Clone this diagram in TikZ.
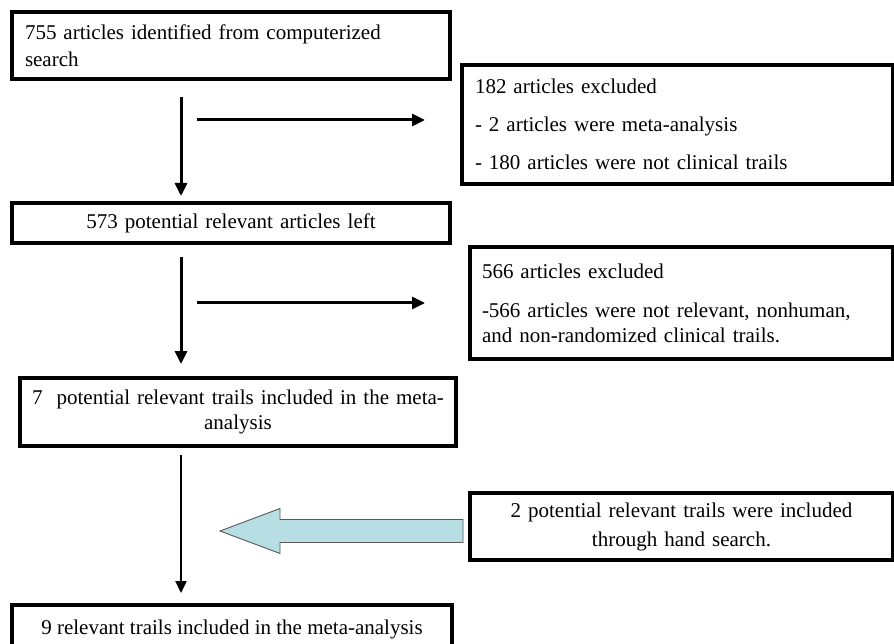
\documentclass[tikz,border=0pt]{standalone}
\usepackage{fontspec}
\setmainfont{Liberation Serif}
\usetikzlibrary{arrows.meta}
\definecolor{fatfill}{RGB}{183,222,226}
\definecolor{fatedge}{RGB}{90,90,90}
\tikzset{
  box/.style={draw=black, line width=3.5pt, inner sep=0pt, font=\fontsize{21}{27}\selectfont},
  arr/.style={line width=3pt, -{Triangle[length=13pt,width=12pt]}},
  thinarr/.style={line width=2.4pt, -{Triangle[length=12pt,width=11pt]}},
}
\begin{document}
\begin{tikzpicture}[x=1pt,y=-1pt]
\useasboundingbox[fill=white] (0,0) rectangle (894,644);
% boxes
\node[box, minimum width=438pt, minimum height=67pt, text width=412pt, align=left] (b1) at (231,45.5)
  {755 articles identified from computerized\\search};
\node[box, minimum width=431pt, minimum height=119pt, text width=405pt, align=left] (b2) at (677.5,124.5)
  {182 articles excluded\\[11pt]- 2 articles were meta-analysis\\[11pt]- 180 articles were not clinical trails};
\node[box, minimum width=438pt, minimum height=40pt, text width=430pt, align=center] (b3) at (231,223)
  {573 potential relevant articles left};
\node[box, minimum width=423pt, minimum height=112pt, text width=399pt, align=left, font=\fontsize{21}{25}\selectfont] (b5) at (681.5,303)
  {566 articles excluded\\[14pt]-566 articles were not relevant, nonhuman,\\and non-randomized clinical trails.};
\node[box, minimum width=436pt, minimum height=68pt, text width=430pt, align=center, font=\fontsize{21}{25}\selectfont] (b4) at (238,412)
  {7\ \ potential relevant trails included in the meta-\\analysis};
\node[box, minimum width=423pt, minimum height=67pt, text width=410pt, align=center, font=\fontsize{21}{29}\selectfont] (b7) at (681.5,526.5)
  {2 potential relevant trails were included\\through hand search.};
\node[box, minimum width=440pt, minimum height=56pt] (b6) at (232,633) {};
\node[font=\fontsize{21}{27}\selectfont] (t6) at (232,629) {9 relevant trails included in the meta-analysis};
% connector end points
\coordinate (v1a) at (181,97);  \coordinate (v1b) at (181,196);
\coordinate (h1a) at (197,120); \coordinate (h1b) at (425,120);
\coordinate (v2a) at (181,257); \coordinate (v2b) at (181,364);
\coordinate (h2a) at (197,303); \coordinate (h2b) at (425,303);
\coordinate (v3a) at (181,455); \coordinate (v3b) at (181,593);
\draw[arr] (v1a) -- (v1b);
\draw[arr] (h1a) -- (h1b);
\draw[arr] (v2a) -- (v2b);
\draw[arr] (h2a) -- (h2b);
\draw[thinarr] (v3a) -- (v3b);
% fat arrow from hand-search box
\coordinate (fs1) at (463,519.5);
\coordinate (fs2) at (463,542.5);
\draw[fill=fatfill, draw=fatedge, line width=0.9pt, line join=miter]
  (fs1) -- (280,519.5) -- (280,508.5) -- (220,531) -- (280,553.5) -- (280,542.5) -- (fs2) -- cycle;
\end{tikzpicture}
\end{document}
